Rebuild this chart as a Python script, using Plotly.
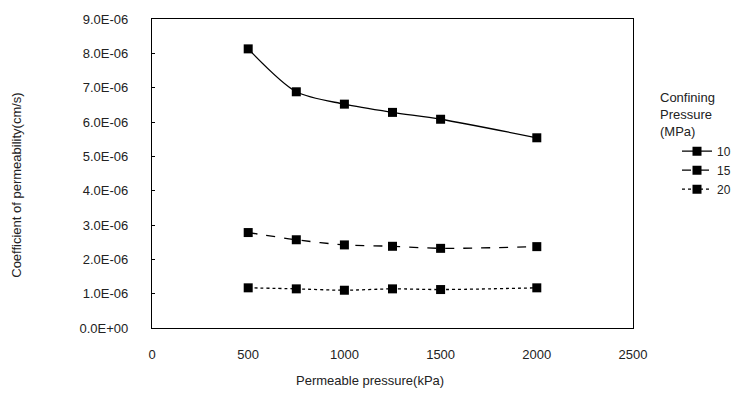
import plotly.graph_objects as go

# Data
pressure_kpa = [500, 750, 1000, 1250, 1500, 2000]
k_10mpa = [8.13e-6, 6.88e-6, 6.52e-6, 6.28e-6, 6.08e-6, 5.54e-6]
k_15mpa = [2.78e-6, 2.57e-6, 2.42e-6, 2.38e-6, 2.32e-6, 2.37e-6]
k_20mpa = [1.17e-6, 1.14e-6, 1.10e-6, 1.14e-6, 1.12e-6, 1.17e-6]
series_names = ["10", "15", "20"]
y_tick_vals = [0, 1e-6, 2e-6, 3e-6, 4e-6, 5e-6, 6e-6, 7e-6, 8e-6, 9e-6]
y_tick_text = ["0.0E+00", "1.0E-06", "2.0E-06", "3.0E-06", "4.0E-06",
               "5.0E-06", "6.0E-06", "7.0E-06", "8.0E-06", "9.0E-06"]
x_tick_vals = [0, 500, 1000, 1500, 2000, 2500]

W, H = 756, 397
L, R, T, B = 152, 123, 13, 69
PW, PH = W - L - R, H - T - B
FONT = "Liberation Sans, Arial, sans-serif"

fig = go.Figure()
dashes = ["solid", "dash", "dot"]
for name, vals, dash in zip(series_names, [k_10mpa, k_15mpa, k_20mpa], dashes):
    fig.add_trace(go.Scatter(
        x=pressure_kpa, y=vals, name=name, mode="lines+markers",
        line=dict(color="black", width=1.3, dash=dash, shape="spline", smoothing=0.8),
        marker=dict(symbol="square", size=9, color="black"),
    ))

axis_font = dict(family=FONT, size=13, color="#222")
fig.update_layout(
    width=W, height=H,
    margin=dict(l=L, r=R, t=T, b=B, pad=0),
    paper_bgcolor="white", plot_bgcolor="white",
    font=dict(family=FONT, color="black"),
    showlegend=True,
    legend=dict(
        x=(677 - L) / PW, y=(328 - 133) / PH,
        xanchor="left", yanchor="top",
        font=dict(family=FONT, size=12, color="#222"),
        itemwidth=30, tracegroupgap=0, borderwidth=0, bgcolor="rgba(0,0,0,0)",
        traceorder="normal",
    ),
    xaxis=dict(
        range=[0, 2500], tickvals=x_tick_vals, ticks="", showgrid=False, zeroline=False,
        showline=True, mirror=True, linecolor="black", linewidth=1.2,
        tickfont=axis_font, ticklabelstandoff=14,
    ),
    yaxis=dict(
        range=[0, 9e-6], tickvals=y_tick_vals, ticktext=y_tick_text,
        ticks="inside", ticklen=3, tickcolor="black", showgrid=False, zeroline=False,
        showline=True, mirror=True, linecolor="black", linewidth=1.2,
        tickfont=axis_font, ticklabelstandoff=20,
    ),
)

fig.add_annotation(text="Permeable pressure(kPa)", xref="paper", yref="paper",
                   x=(370 - L) / PW, y=-(382 - 328) / PH,
                   xanchor="center", yanchor="middle", showarrow=False,
                   font=dict(family=FONT, size=13, color="#222"))
fig.add_annotation(text="Coefficient of permeability(cm/s)", xref="paper", yref="paper",
                   x=-(L - 17) / PW, y=(328 - 183) / PH,
                   xanchor="center", yanchor="middle", textangle=-90, showarrow=False,
                   font=dict(family=FONT, size=13, color="#222"))
fig.add_annotation(text="Confining<br>Pressure<br>(MPa)", xref="paper", yref="paper",
                   x=(658 - L) / PW, y=(328 - 83) / PH,
                   xanchor="left", yanchor="top", align="left", showarrow=False,
                   font=dict(family=FONT, size=13, color="#222"))

fig.write_html("out.html")
